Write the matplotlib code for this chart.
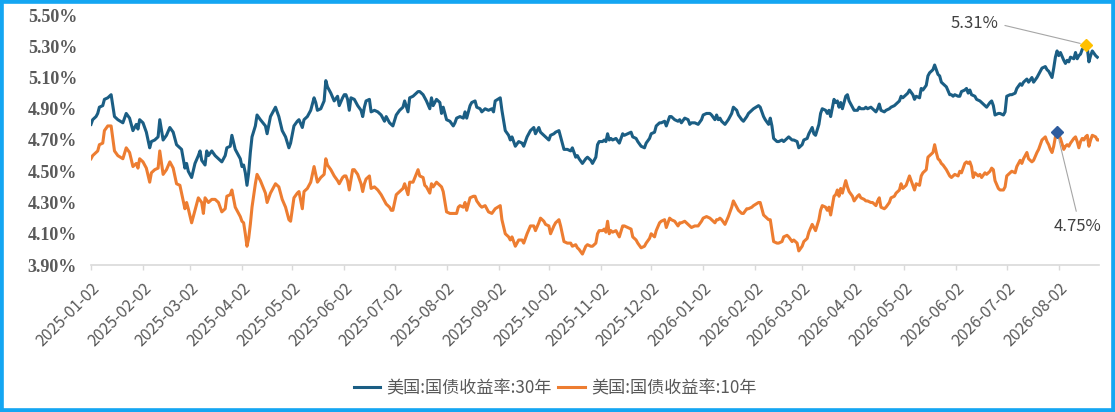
import numpy as np
import pandas as pd
import matplotlib
matplotlib.use("Agg")
import matplotlib.pyplot as plt
from matplotlib.patches import Rectangle

# ---------------- data ----------------
START_DATE = "2025-01-02"

# 30-year yield: calendar-day offsets from START_DATE and yields (%)
days_30y = [
    0, 1, 3, 4, 5, 7, 8, 10, 12, 14, 16, 19, 21, 23, 25, 27, 28, 29, 31, 33,
    35, 36, 38, 40, 41, 43, 45, 47, 49, 51, 54, 56, 57, 58, 60, 62, 64, 65, 66, 68,
    69, 70, 72, 74, 76, 78, 80, 81, 83, 84, 86, 87, 89, 90, 91, 92, 93, 94, 95, 96,
    98, 99, 101, 104, 105, 107, 110, 112, 114, 116, 118, 119, 121, 123, 124, 126, 127, 129, 131, 133,
    134, 135, 137, 139, 140, 141, 143, 145, 147, 148, 150, 151,
    152, 153, 154, 155, 157, 159, 161, 162, 163, 164, 166, 167, 169, 171, 173, 175, 176, 178, 179, 180,
    182, 184, 186, 187, 189, 190, 192, 195, 196, 198, 199, 200, 202, 203, 204, 206, 208, 209, 210, 212,
    214, 216, 217, 218, 220, 222, 223, 224, 226, 227, 229, 230, 232, 233, 235, 237, 239, 240, 241, 244,
    245, 247, 249, 250, 251, 253, 255, 257, 258, 260, 262, 264, 265, 267, 268, 270, 271, 273, 274, 276,
    277, 279, 280, 282, 284, 286, 287, 289, 290, 291, 293, 295, 296, 298, 299, 301, 302, 303,
    305, 306, 307, 308, 309, 310, 311, 313, 315, 317, 318, 320, 322, 323, 325, 326, 328, 330, 331, 333,
    334, 336, 337, 339, 340, 342, 343, 345, 346, 348, 350, 351, 352, 354, 356, 357, 358, 360, 362, 364,
    365, 367, 369, 370, 372, 373, 374, 375, 376, 378, 380, 382, 383, 385, 386, 388, 389, 391, 392, 394,
    395, 398, 399, 401, 402, 404, 405, 406, 407, 409, 410, 412, 413, 415, 416, 418, 419, 421, 422, 424,
    425, 427, 428, 430, 431, 432, 434, 435, 436, 438, 439, 440, 441, 443, 444, 445, 446, 447, 448, 450,
    451, 452, 454, 455,
    457, 458, 459, 461, 462, 463, 465, 466, 468, 469, 470, 471, 473, 474, 476, 477, 479, 480, 482, 483,
    484, 486, 487, 488, 490, 491, 492, 494, 495, 496, 498, 499, 500, 502, 503, 504, 505, 506, 507, 508,
    510, 512, 513, 514, 515, 517, 518, 519, 521, 522, 523, 524, 525, 527, 528, 530, 531, 533, 534, 536,
    537, 538, 539, 541, 542, 544, 545, 546, 548, 549, 551, 552, 554, 555, 556, 558, 559, 561, 562, 564,
    565, 566, 567, 569, 570, 571, 572, 573, 574, 575, 576, 577, 578, 580, 581, 582, 583, 584, 586, 587,
    588, 589, 590, 591, 592, 593, 594, 595, 596, 597, 599, 600,
]
yield_30y = [
    4.80, 4.83, 4.85, 4.87, 4.91, 4.92, 4.96, 4.97, 4.99, 4.85, 4.83, 4.81, 4.87, 4.84, 4.76, 4.80, 4.77, 4.83, 4.81, 4.75,
    4.65, 4.69, 4.70, 4.72, 4.83, 4.70, 4.73, 4.78, 4.75, 4.67, 4.64, 4.52, 4.55, 4.50, 4.46, 4.55, 4.60, 4.63, 4.57, 4.54,
    4.63, 4.60, 4.63, 4.60, 4.58, 4.56, 4.60, 4.65, 4.66, 4.73, 4.64, 4.62, 4.58, 4.53, 4.54, 4.49, 4.41, 4.49, 4.62, 4.72,
    4.79, 4.86, 4.83, 4.79, 4.74, 4.85, 4.91, 4.85, 4.76, 4.72, 4.65, 4.68, 4.79, 4.82, 4.83, 4.78, 4.83, 4.85, 4.89, 4.97,
    4.94, 4.89, 4.90, 4.95, 5.08, 5.04, 5.00, 4.95, 4.98, 4.92, 4.97, 4.99,
    4.99, 4.96, 4.89, 4.97, 4.96, 4.92, 4.89, 4.85, 4.91, 4.95, 4.96, 4.88, 4.89, 4.88, 4.86, 4.82, 4.85, 4.81, 4.80, 4.79,
    4.86, 4.89, 4.91, 4.95, 4.88, 4.97, 4.98, 5.01, 5.01, 4.99, 4.97, 4.95, 4.90, 4.97, 4.92, 4.96, 4.94, 4.87, 4.91, 4.83,
    4.82, 4.79, 4.81, 4.84, 4.85, 4.84, 4.88, 4.84, 4.92, 4.94, 4.95, 4.91, 4.90, 4.88, 4.90, 4.89, 4.90, 4.88, 4.95, 4.97,
    4.89, 4.76, 4.73, 4.70, 4.72, 4.66, 4.69, 4.68, 4.66, 4.72, 4.76, 4.78, 4.74, 4.78, 4.75, 4.73, 4.72, 4.70, 4.73, 4.74,
    4.75, 4.76, 4.72, 4.64, 4.64, 4.63, 4.65, 4.59, 4.60, 4.58, 4.55, 4.58, 4.59, 4.57, 4.55, 4.59, 4.67, 4.69,
    4.69, 4.70, 4.69, 4.74, 4.70, 4.71, 4.70, 4.71, 4.68, 4.74, 4.73, 4.74, 4.75, 4.72, 4.71, 4.69, 4.66, 4.65, 4.68, 4.71,
    4.74, 4.75, 4.79, 4.81, 4.81, 4.82, 4.79, 4.85, 4.85, 4.83, 4.82, 4.83, 4.81, 4.84, 4.83, 4.80, 4.81, 4.81, 4.80, 4.83,
    4.86, 4.87, 4.87, 4.86, 4.83, 4.86, 4.83, 4.84, 4.82, 4.80, 4.83, 4.87, 4.91, 4.89, 4.86, 4.83, 4.82, 4.85, 4.87, 4.89,
    4.90, 4.92, 4.91, 4.85, 4.83, 4.80, 4.84, 4.79, 4.71, 4.69, 4.69, 4.70, 4.69, 4.71, 4.72, 4.70, 4.70, 4.69, 4.65, 4.67,
    4.70, 4.71, 4.74, 4.78, 4.74, 4.73, 4.80, 4.87, 4.90, 4.89, 4.87, 4.89, 4.85, 4.96, 4.94, 4.95, 4.91, 4.94, 4.90, 4.98,
    4.99, 4.95, 4.91, 4.89,
    4.89, 4.91, 4.90, 4.90, 4.91, 4.90, 4.91, 4.90, 4.88, 4.90, 4.93, 4.89, 4.88, 4.89, 4.90, 4.91, 4.92, 4.93, 4.95, 4.98,
    4.97, 4.99, 5.00, 5.02, 4.99, 4.96, 4.98, 4.97, 5.03, 5.02, 5.05, 5.11, 5.13, 5.15, 5.18, 5.15, 5.12, 5.11, 5.07, 5.06,
    5.04, 4.99, 4.99, 4.98, 4.99, 4.98, 4.98, 5.01, 5.02, 5.03, 5.00, 5.02, 4.99, 4.98, 4.96, 4.95, 4.94, 4.92, 4.91, 4.94,
    4.95, 4.92, 4.86, 4.87, 4.87, 4.86, 4.88, 4.98, 4.99, 4.99, 5.00, 5.03, 5.06, 5.05, 5.07, 5.09, 5.07, 5.10, 5.07, 5.10,
    5.12, 5.14, 5.16, 5.17, 5.15, 5.14, 5.12, 5.10, 5.16, 5.23, 5.27, 5.24, 5.26, 5.21, 5.19, 5.21, 5.20, 5.23, 5.22, 5.26,
    5.22, 5.24, 5.25, 5.28, 5.29, 5.31, 5.29, 5.20, 5.24, 5.27, 5.24, 5.23,
]

# 10-year yield
days_10y = [
    0, 1, 3, 4, 5, 7, 8, 10, 12, 14, 16, 19, 21, 23, 25, 27, 28, 29, 31, 33,
    35, 36, 38, 40, 41, 43, 45, 47, 49, 51, 53, 56, 57, 58, 60, 64, 66, 67, 68, 70,
    72, 74, 76, 78, 80, 81, 83, 84, 86, 87, 89, 90, 91, 92, 93, 94, 95, 96, 98, 99,
    101, 104, 105, 107, 110, 112, 114, 116, 118, 119, 121, 123, 124, 126, 127, 129, 131, 133, 134, 135,
    137, 139, 140, 141, 143, 145, 147, 148, 150, 151,
    152, 153, 154, 156, 157, 159, 161, 162, 163, 164, 166, 167, 169, 171, 173, 175, 176, 178, 179, 180,
    182, 184, 186, 187, 189, 190, 192, 195, 196, 198, 199, 200, 202, 203, 204, 206, 208, 209, 210, 212,
    214, 216, 218, 219, 220, 222, 223, 224, 226, 228, 229, 230, 232, 233, 235, 237, 239, 241, 244, 245,
    247, 249, 250, 251, 253, 255, 257, 258, 260, 262, 264, 265, 267, 268, 270, 271, 273, 274, 276, 277,
    279, 280, 282, 284, 286, 287, 289, 290, 291, 293, 295, 296, 298, 299, 301, 302, 303,
    305, 306, 307, 308, 309, 310, 311, 313, 315, 317, 318, 320, 322, 323, 325, 326, 328, 330, 331, 333,
    334, 336, 337, 339, 340, 342, 343, 345, 346, 348, 350, 351, 352, 354, 356, 357, 358, 360, 362, 364,
    365, 367, 369, 370, 372, 373, 374, 375, 376, 378, 380, 382, 383, 385, 386, 388, 389, 391, 392, 394,
    395, 398, 399, 401, 402, 404, 405, 406, 407, 409, 410, 412, 413, 415, 416, 418, 419, 421, 422, 424,
    425, 427, 428, 430, 431, 432, 434, 435, 436, 438, 439, 440, 441, 443, 444, 445, 446, 447, 448, 450,
    451, 452, 454, 455,
    457, 458, 459, 461, 462, 463, 465, 466, 468, 469, 470, 471, 473, 474, 476, 477, 479, 480, 482, 483,
    484, 486, 487, 488, 490, 491, 492, 494, 495, 496, 498, 499, 500, 502, 503, 504, 505, 506, 507, 508,
    510, 512, 513, 514, 515, 517, 518, 519, 521, 522, 523, 524, 525, 526, 527, 529, 530, 531, 533, 534,
    536, 537, 538, 539, 541, 542, 544, 545, 546, 548, 549, 551, 552, 554, 555, 556, 558, 559, 561, 562,
    564, 565, 566, 567, 569, 570, 571, 572, 573, 574, 575, 576, 577, 578, 580, 581, 582, 583, 584, 586,
    587, 588, 589, 590, 591, 592, 593, 594, 595, 596, 597, 599, 600, 601,
]
yield_10y = [
    4.58, 4.60, 4.62, 4.63, 4.67, 4.68, 4.76, 4.79, 4.79, 4.63, 4.60, 4.58, 4.65, 4.62, 4.53, 4.55, 4.52, 4.58, 4.56, 4.52,
    4.43, 4.49, 4.51, 4.52, 4.63, 4.48, 4.51, 4.56, 4.52, 4.42, 4.41, 4.26, 4.30, 4.26, 4.17, 4.33, 4.30, 4.23, 4.33, 4.30,
    4.32, 4.32, 4.30, 4.24, 4.26, 4.34, 4.35, 4.38, 4.27, 4.25, 4.21, 4.18, 4.17, 4.10, 4.02, 4.07, 4.16, 4.27, 4.42, 4.48,
    4.44, 4.36, 4.30, 4.36, 4.42, 4.40, 4.32, 4.27, 4.19, 4.18, 4.33, 4.36, 4.37, 4.26, 4.37, 4.39, 4.43, 4.53, 4.48, 4.43,
    4.46, 4.48, 4.58, 4.54, 4.51, 4.47, 4.44, 4.42, 4.46, 4.47,
    4.47, 4.44, 4.38, 4.51, 4.51, 4.48, 4.42, 4.37, 4.42, 4.45, 4.47, 4.39, 4.40, 4.38, 4.35, 4.31, 4.29, 4.27, 4.25, 4.25,
    4.35, 4.37, 4.39, 4.42, 4.35, 4.43, 4.43, 4.51, 4.47, 4.46, 4.41, 4.40, 4.36, 4.42, 4.40, 4.43, 4.41, 4.40, 4.37, 4.24,
    4.23, 4.23, 4.23, 4.27, 4.28, 4.27, 4.30, 4.25, 4.33, 4.34, 4.34, 4.31, 4.28, 4.27, 4.28, 4.24, 4.23, 4.26, 4.28, 4.19,
    4.10, 4.08, 4.06, 4.08, 4.02, 4.06, 4.06, 4.04, 4.10, 4.15, 4.15, 4.12, 4.17, 4.20, 4.18, 4.16, 4.15, 4.10, 4.15, 4.17,
    4.19, 4.15, 4.05, 4.04, 4.04, 4.02, 4.03, 4.01, 4.00, 3.97, 4.02, 4.03, 4.02, 4.02, 4.04, 4.10, 4.12,
    4.12, 4.13, 4.11, 4.18, 4.10, 4.12, 4.11, 4.12, 4.08, 4.15, 4.15, 4.14, 4.13, 4.08, 4.06, 4.04, 4.01, 4.02, 4.04, 4.07,
    4.10, 4.08, 4.12, 4.17, 4.18, 4.19, 4.14, 4.20, 4.19, 4.18, 4.15, 4.17, 4.17, 4.18, 4.16, 4.15, 4.14, 4.15, 4.15, 4.18,
    4.20, 4.21, 4.20, 4.19, 4.17, 4.19, 4.19, 4.20, 4.19, 4.16, 4.21, 4.27, 4.31, 4.27, 4.25, 4.23, 4.23, 4.26, 4.26, 4.27,
    4.28, 4.30, 4.30, 4.22, 4.21, 4.19, 4.19, 4.12, 4.05, 4.04, 4.04, 4.05, 4.08, 4.09, 4.08, 4.05, 4.06, 4.04, 3.99, 4.02,
    4.05, 4.07, 4.11, 4.16, 4.14, 4.12, 4.19, 4.25, 4.28, 4.27, 4.25, 4.27, 4.22, 4.34, 4.35, 4.38, 4.34, 4.39, 4.36, 4.44,
    4.40, 4.37, 4.34, 4.31,
    4.34, 4.35, 4.33, 4.32, 4.31, 4.31, 4.30, 4.30, 4.28, 4.31, 4.33, 4.27, 4.26, 4.27, 4.30, 4.33, 4.34, 4.36, 4.38, 4.42,
    4.39, 4.41, 4.44, 4.47, 4.41, 4.38, 4.42, 4.41, 4.47, 4.49, 4.51, 4.59, 4.60, 4.62, 4.67, 4.62, 4.58, 4.57, 4.55, 4.54,
    4.51, 4.47, 4.46, 4.47, 4.48, 4.47, 4.50, 4.49, 4.55, 4.56, 4.55, 4.56, 4.53, 4.46, 4.49, 4.47, 4.48, 4.46, 4.49, 4.48,
    4.50, 4.52, 4.51, 4.44, 4.39, 4.38, 4.38, 4.40, 4.47, 4.49, 4.50, 4.49, 4.53, 4.57, 4.55, 4.58, 4.62, 4.58, 4.56, 4.57,
    4.62, 4.64, 4.67, 4.70, 4.72, 4.69, 4.67, 4.64, 4.62, 4.66, 4.72, 4.75, 4.73, 4.71, 4.64, 4.66, 4.67, 4.66, 4.68, 4.71,
    4.72, 4.69, 4.65, 4.69, 4.71, 4.70, 4.72, 4.73, 4.66, 4.70, 4.73, 4.72, 4.70, 4.70,
]

# highlighted (annotated) points, as day offsets
highlight_day_30y = 593
highlight_day_10y = 576

series_labels = ["美国:国债收益率:30年", "美国:国债收益率:10年"]
x_tick_labels = [
    "2025-01-02", "2025-02-02", "2025-03-02", "2025-04-02", "2025-05-02",
    "2025-06-02", "2025-07-02", "2025-08-02", "2025-09-02", "2025-10-02",
    "2025-11-02", "2025-12-02", "2026-01-02", "2026-02-02", "2026-03-02",
    "2026-04-02", "2026-05-02", "2026-06-02", "2026-07-02", "2026-08-02",
]
y_ticks = [3.90, 4.10, 4.30, 4.50, 4.70, 4.90, 5.10, 5.30, 5.50]

# ---------------- styling ----------------
C30 = "#1B5E84"
C10 = "#ED7D31"
GREY = "#595959"
CJK = ["Noto Sans CJK SC", "DejaVu Sans"]

start = pd.Timestamp(START_DATE)
d30 = start + pd.to_timedelta(days_30y, unit="D")
d10 = start + pd.to_timedelta(days_10y, unit="D")
y30 = np.array(yield_30y)
y10 = np.array(yield_10y)
tick_dates = pd.to_datetime(x_tick_labels)

fig = plt.figure(figsize=(11.15, 4.12), dpi=100)
fig.patch.set_facecolor("white")
ax = fig.add_axes([91 / 1115, 1 - 265 / 412, 1008 / 1115, 250 / 412])

l30, = ax.plot(d30, y30, color=C30, lw=2.2, solid_joinstyle="round", label=series_labels[0], zorder=3)
l10, = ax.plot(d10, y10, color=C10, lw=2.2, solid_joinstyle="round", label=series_labels[1], zorder=3)

ax.set_xlim(min(d30[0], d10[0]), max(d30[-1], d10[-1]))
ax.set_ylim(y_ticks[0], y_ticks[-1])

ax.set_yticks(y_ticks)
ax.set_yticklabels([f"{v:.2f}%" for v in y_ticks], fontfamily="Liberation Serif",
                   fontweight="bold", fontsize=13, color=GREY)
ax.tick_params(axis="y", length=0, pad=10)

ax.set_xticks(tick_dates)
ax.set_xticklabels(x_tick_labels, rotation=45, ha="right", va="top",
                   rotation_mode="anchor", fontsize=11.5, color=GREY, fontfamily=CJK)
ax.tick_params(axis="x", length=3.6, width=1, color="#d9d9d9", pad=7)

for s in ("left", "right", "top"):
    ax.spines[s].set_visible(False)
ax.spines["bottom"].set_color("#d9d9d9")
ax.spines["bottom"].set_linewidth(1.2)

# highlighted points
i30 = days_30y.index(highlight_day_30y)
i10 = days_10y.index(highlight_day_10y)
ax.plot(d30[i30], y30[i30], marker="D", color="#FFC000", ms=6, zorder=5)
ax.plot(d10[i10], y10[i10], marker="D", color="#2E5C9E", ms=6, zorder=5)

ax.annotate(f"{y30[i30]:.2f}%", xy=(d30[i30], y30[i30]), xytext=(-63, 15),
            textcoords="offset points", ha="right", va="center", fontsize=12,
            color="#404040", fontfamily=CJK, annotation_clip=False,
            arrowprops=dict(arrowstyle="-", color="#a6a6a6", lw=0.8,
                            relpos=(1, 0.5), shrinkA=3, shrinkB=4))
ax.annotate(f"{y10[i10]:.2f}%", xy=(d10[i10], y10[i10]), xytext=(15, -68),
            textcoords="offset points", ha="center", va="center", fontsize=12,
            color="#404040", fontfamily=CJK, annotation_clip=False,
            arrowprops=dict(arrowstyle="-", color="#a6a6a6", lw=0.8,
                            relpos=(0.5, 1), shrinkA=3, shrinkB=4))

leg = fig.legend(handles=[l30, l10], labels=series_labels, loc="center",
                 bbox_to_anchor=(555 / 1115, 1 - 388 / 412), ncol=2, frameon=False,
                 handlelength=1.55, handletextpad=0.35, columnspacing=0.4,
                 prop={"family": CJK, "size": 12.3})
for t in leg.get_texts():
    t.set_color(GREY)

# outer blue border
fig.add_artist(Rectangle((0, 0), 1, 1, transform=fig.transFigure, fill=False,
                         edgecolor="#14A6F2", linewidth=5.5, zorder=10))

fig.savefig("out.png", dpi=100, facecolor="white")
